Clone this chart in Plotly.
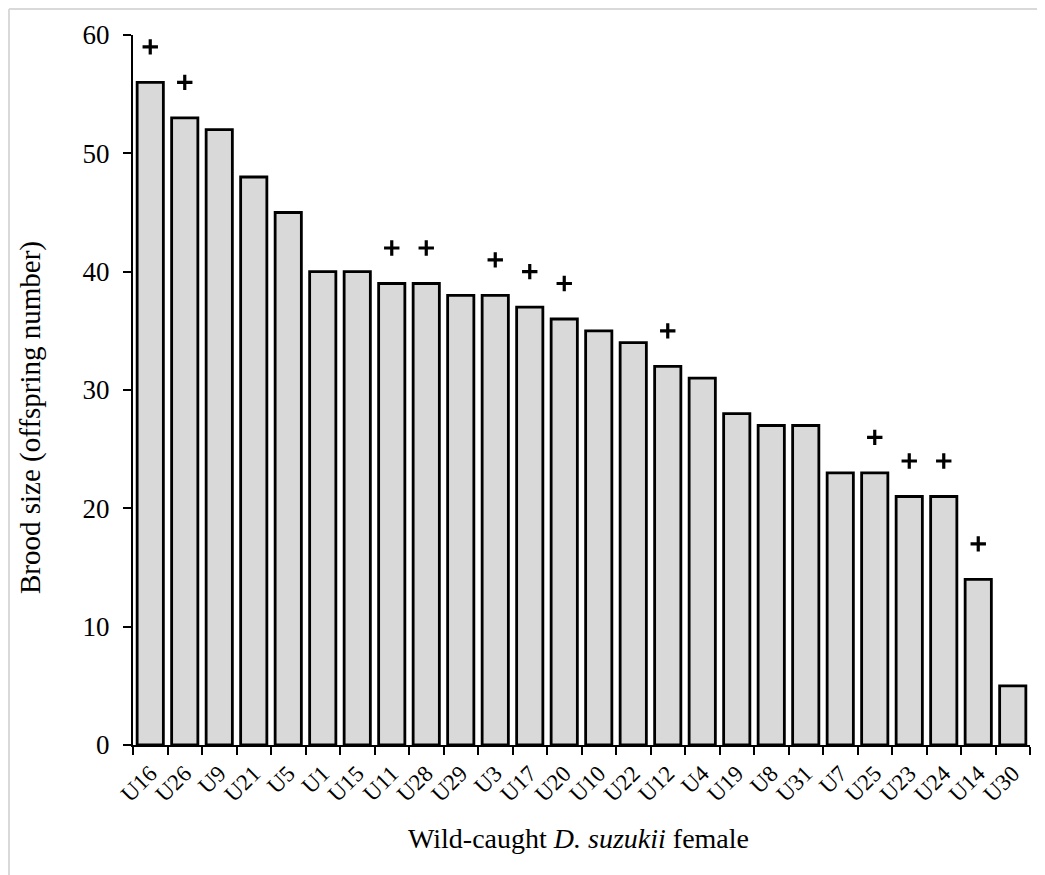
import plotly.graph_objects as go

females = ["U16", "U26", "U9", "U21", "U5", "U1", "U15", "U11", "U28", "U29",
           "U3", "U17", "U20", "U10", "U22", "U12", "U4", "U19", "U8", "U31",
           "U7", "U25", "U23", "U24", "U14", "U30"]
brood_size = [56, 53, 52, 48, 45, 40, 40, 39, 39, 38,
              38, 37, 36, 35, 34, 32, 31, 28, 27, 27,
              23, 23, 21, 21, 14, 5]
marked = ["U16", "U26", "U11", "U28", "U3", "U17", "U20", "U12",
          "U25", "U23", "U24", "U14"]

MARK_OFFSET = 3
mark_x = [f for f in females if f in marked]
mark_y = [brood_size[females.index(f)] + MARK_OFFSET for f in mark_x]

FONT = "Liberation Serif, Times New Roman, serif"

fig = go.Figure()
fig.add_trace(go.Bar(
    x=females, y=brood_size,
    marker=dict(color="#d9d9d9", line=dict(color="black", width=2.8)),
    width=0.76, showlegend=False, hoverinfo="x+y",
))
fig.add_trace(go.Scatter(
    x=mark_x, y=mark_y, mode="markers",
    marker=dict(symbol="cross-thin", size=11, color="black",
                line=dict(color="black", width=3.2)),
    showlegend=False, hoverinfo="skip",
))

# page has an 8px body margin: figure is offset by (8, 8)
OFF = 8
W, H = 1045 - OFF, 875 - OFF
ml, mr, mt, mb = 133 - OFF, 15, 35 - OFF, 130
pw = W - ml - mr
ph = H - mt - mb


def px_x(px):  # page pixel -> paper x
    return (px - OFF - ml) / pw


def px_y(py):  # page pixel -> paper y
    return 1 - (py - OFF - mt) / ph


fig.update_layout(
    width=W, height=H,
    margin=dict(l=ml, r=mr, t=mt, b=mb, autoexpand=False),
    paper_bgcolor="white", plot_bgcolor="white",
    font=dict(family=FONT, color="black"),
    xaxis=dict(
        type="category", range=[-0.5, len(females) - 0.5], automargin=False,
        showline=True, linecolor="black", linewidth=2,
        ticks="outside", tickson="boundaries", ticklen=8, tickwidth=2, tickcolor="black",
        tickangle=-45, tickfont=dict(size=23, family=FONT),
        ticklabelstandoff=4,
        showgrid=False, zeroline=False,
    ),
    yaxis=dict(
        range=[0, 60], dtick=10, automargin=False,
        showline=True, linecolor="black", linewidth=2,
        ticks="outside", ticklen=8, tickwidth=2, tickcolor="black",
        ticklabelstandoff=8,
        tickfont=dict(size=27, family=FONT),
        showgrid=False, zeroline=False,
    ),
    annotations=[
        dict(text="Wild-caught <i>D. suzukii</i> female", xref="paper", yref="paper",
             x=px_x(578), y=px_y(838), xanchor="center", yanchor="middle",
             showarrow=False, font=dict(size=28, family=FONT, color="black")),
        dict(text="Brood size (offspring number)", xref="paper", yref="paper",
             x=px_x(31), y=px_y(418), xanchor="center", yanchor="middle",
             textangle=-90, showarrow=False,
             font=dict(size=29, family=FONT, color="black")),
    ],
)

# light gray frame lines (top and left) of the original figure
fig.add_shape(type="line", xref="paper", yref="paper",
              x0=px_x(9), x1=px_x(1045), y0=px_y(9), y1=px_y(9),
              line=dict(color="#d9d9d9", width=2))
fig.add_shape(type="line", xref="paper", yref="paper",
              x0=px_x(9), x1=px_x(9), y0=px_y(9), y1=px_y(875),
              line=dict(color="#d9d9d9", width=2))

fig.write_html("out.html")
